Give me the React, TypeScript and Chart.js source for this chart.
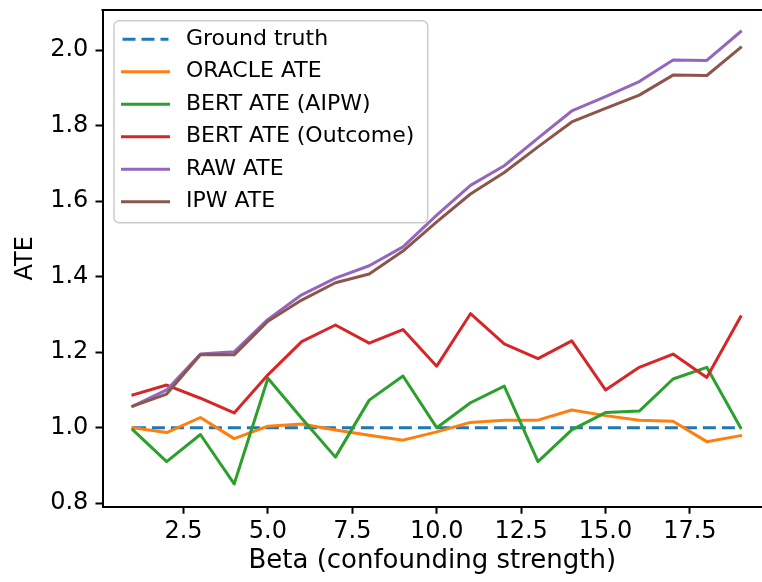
import React, { useEffect, useRef } from "react";
import { Chart, registerables } from "chart.js";

Chart.register(...registerables);

// ---- data ----
const BETA = [1, 2, 3, 4, 5, 6, 7, 8, 9, 10, 11, 12, 13, 14, 15, 16, 17, 18, 19];
const GROUND_TRUTH = [1, 1, 1, 1, 1, 1, 1, 1, 1, 1, 1, 1, 1, 1, 1, 1, 1, 1, 1];
const ORACLE_ATE = [1.0, 0.987, 1.027, 0.971, 1.004, 1.01, 0.994, 0.98, 0.967, 0.989, 1.014, 1.02, 1.02, 1.047, 1.032, 1.02, 1.017, 0.963, 0.979];
const BERT_AIPW = [0.994, 0.91, 0.982, 0.851, 1.131, 1.025, 0.922, 1.073, 1.137, 1.0, 1.066, 1.11, 0.91, 0.994, 1.04, 1.044, 1.129, 1.16, 1.0];
const BERT_OUTCOME = [1.087, 1.113, 1.078, 1.039, 1.14, 1.228, 1.272, 1.224, 1.26, 1.163, 1.302, 1.222, 1.183, 1.23, 1.1, 1.16, 1.195, 1.133, 1.294];
const RAW_ATE = [1.057, 1.1, 1.195, 1.201, 1.287, 1.352, 1.396, 1.429, 1.479, 1.563, 1.642, 1.694, 1.767, 1.839, 1.877, 1.917, 1.974, 1.973, 2.049];
const IPW_ATE = [1.057, 1.089, 1.193, 1.193, 1.282, 1.338, 1.384, 1.407, 1.468, 1.545, 1.619, 1.676, 1.744, 1.81, 1.846, 1.881, 1.934, 1.933, 2.007];

const SERIES_LABELS = ["Ground truth", "ORACLE ATE", "BERT ATE (AIPW)", "BERT ATE (Outcome)", "RAW ATE", "IPW ATE"];
const SERIES_COLORS = ["#1f77b4", "#ff7f0e", "#2ca02c", "#d62728", "#9467bd", "#8c564b"];
const SERIES_VALUES = [GROUND_TRUTH, ORACLE_ATE, BERT_AIPW, BERT_OUTCOME, RAW_ATE, IPW_ATE];

const X_TICKS = [2.5, 5.0, 7.5, 10.0, 12.5, 15.0, 17.5];
const Y_TICKS = [0.8, 1.0, 1.2, 1.4, 1.6, 1.8, 2.0];
const X_TITLE = "Beta (confounding strength)";
const Y_TITLE = "ATE";

const FONT = "'DejaVu Sans', 'Liberation Sans', sans-serif";

const frameAndLegend = {
  id: "frameAndLegend",
  afterDatasetsDraw(chart: any) {
    const { ctx, chartArea } = chart;
    ctx.save();
    // top spine
    ctx.strokeStyle = "#000";
    ctx.lineWidth = 2;
    ctx.beginPath();
    ctx.moveTo(chartArea.left - 1, chartArea.top);
    ctx.lineTo(chartArea.right + 1, chartArea.top);
    ctx.stroke();

    // legend box
    const bx = chartArea.left + 11.5;
    const by = chartArea.top + 10.7;
    const bw = 313.7;
    const bh = 202;
    const r = 5;
    ctx.beginPath();
    ctx.moveTo(bx + r, by);
    ctx.lineTo(bx + bw - r, by);
    ctx.arcTo(bx + bw, by, bx + bw, by + r, r);
    ctx.lineTo(bx + bw, by + bh - r);
    ctx.arcTo(bx + bw, by + bh, bx + bw - r, by + bh, r);
    ctx.lineTo(bx + r, by + bh);
    ctx.arcTo(bx, by + bh, bx, by + bh - r, r);
    ctx.lineTo(bx, by + r);
    ctx.arcTo(bx, by, bx + r, by, r);
    ctx.closePath();
    ctx.fillStyle = "rgba(255,255,255,0.8)";
    ctx.fill();
    ctx.strokeStyle = "#cccccc";
    ctx.lineWidth = 1.5;
    ctx.stroke();

    chart.data.datasets.forEach((ds: any, i: number) => {
      const cy = by + 18.6 + i * 32.47;
      ctx.beginPath();
      ctx.strokeStyle = ds.borderColor;
      ctx.lineWidth = 3;
      ctx.setLineDash(ds.borderDash || []);
      ctx.lineCap = ds.borderDash ? "butt" : "square";
      ctx.moveTo(bx + 8.5, cy);
      ctx.lineTo(bx + 54.5, cy);
      ctx.stroke();
      ctx.setLineDash([]);
      ctx.fillStyle = "#000";
      ctx.font = `22px ${FONT}`;
      ctx.textBaseline = "middle";
      ctx.textAlign = "left";
      ctx.fillText(ds.label, bx + 72, cy);
    });
    ctx.restore();
  },
};

export default function App() {
  const ref = useRef<HTMLCanvasElement | null>(null);

  useEffect(() => {
    if (!ref.current) return;
    const datasets = SERIES_LABELS.map((label, i) => ({
      label,
      data: BETA.map((b, j) => ({ x: b, y: SERIES_VALUES[i][j] })),
      borderColor: SERIES_COLORS[i],
      backgroundColor: SERIES_COLORS[i],
      borderWidth: 3,
      pointRadius: 0,
      tension: 0,
      fill: false,
      borderDash: i === 0 ? [13, 6] : undefined,
      borderCapStyle: i === 0 ? "butt" : "square",
      borderJoinStyle: "round",
      order: SERIES_LABELS.length - i,
    }));

    const chart = new Chart(ref.current, {
      type: "line",
      data: { datasets } as any,
      plugins: [frameAndLegend],
      options: {
        responsive: false,
        animation: false,
        devicePixelRatio: 1,
        layout: { padding: { top: 10, left: 0, right: 0, bottom: 0 } },
        plugins: { legend: { display: false }, tooltip: { enabled: false } },
        scales: {
          x: {
            type: "linear",
            min: 0.1,
            max: 19.635,
            afterBuildTicks: (s: any) => {
              s.ticks = X_TICKS.map((v) => ({ value: v }));
            },
            afterFit: (s: any) => {
              s.height = 75.3;
              s.paddingLeft = 0;
              s.paddingRight = 0;
            },
            grid: { drawOnChartArea: false, tickLength: 7, tickWidth: 2, tickColor: "#000" },
            border: { display: true, color: "#000", width: 2 },
            ticks: {
              color: "#000",
              font: { family: FONT, size: 24 },
              padding: 3.3,
              maxRotation: 0,
              autoSkip: false,
              callback: (v: any) => Number(v).toFixed(1),
            },
            title: {
              display: true,
              text: X_TITLE,
              color: "#000",
              font: { family: FONT, size: 26 },
              padding: { top: 0, bottom: 5.0 },
            },
          },
          y: {
            type: "linear",
            min: 0.7907,
            max: 2.1065,
            afterBuildTicks: (s: any) => {
              s.ticks = Y_TICKS.map((v) => ({ value: v }));
            },
            afterFit: (s: any) => {
              s.width = 102.5;
              s.paddingTop = 0;
              s.paddingBottom = 0;
            },
            grid: { drawOnChartArea: false, tickLength: 7, tickWidth: 2, tickColor: "#000" },
            border: { display: true, color: "#000", width: 2 },
            ticks: {
              color: "#000",
              font: { family: FONT, size: 24 },
              padding: 7.2,
              autoSkip: false,
              callback: (v: any) => Number(v).toFixed(1),
            },
            title: {
              display: true,
              text: Y_TITLE,
              color: "#000",
              font: { family: FONT, size: 24 },
              padding: { top: 11.4, bottom: 0 },
            },
          },
        },
      } as any,
    });
    return () => chart.destroy();
  }, []);

  return (
    <div
      style={{
        position: "absolute",
        left: 0,
        top: 0,
        width: 762,
        height: 582,
        overflow: "hidden",
        background: "#fff",
      }}
    >
      <canvas ref={ref} width={762} height={582} style={{ display: "block" }} />
    </div>
  );
}
